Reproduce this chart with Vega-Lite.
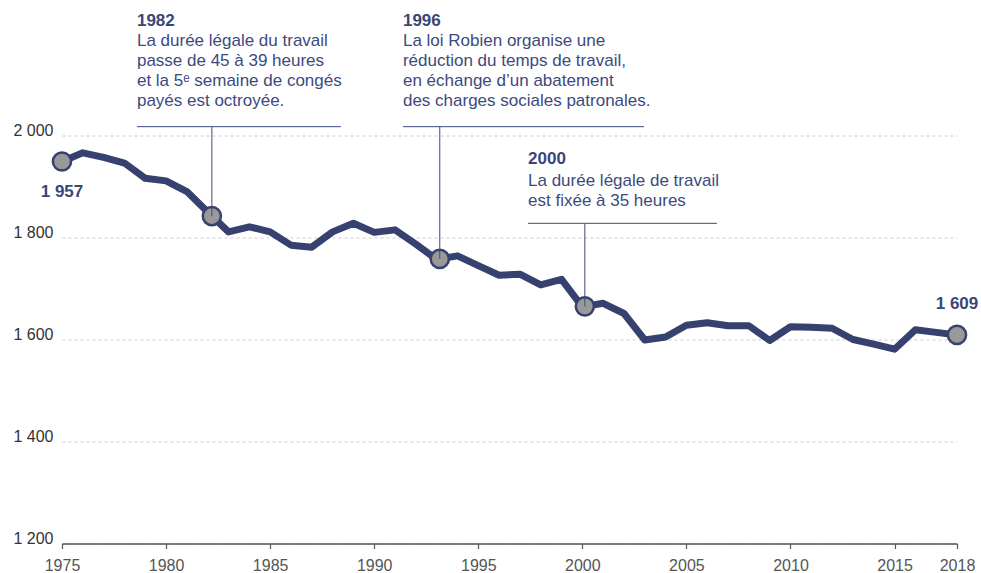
{
  "$schema": "https://vega.github.io/schema/vega-lite/v6.json",
  "width": 895,
  "height": 408,
  "autosize": {"type": "none"},
  "padding": {"left": 62, "top": 135.5, "right": 24, "bottom": 29.5},
  "background": "#ffffff",
  "config": {"view": {"stroke": null}, "font": "Liberation Sans"},
  "datasets": {
    "series": [
      {"year": 1975, "hours": 1949}, {"year": 1976, "hours": 1966}, {"year": 1977, "hours": 1957},
      {"year": 1978, "hours": 1946}, {"year": 1979, "hours": 1916}, {"year": 1980, "hours": 1911},
      {"year": 1981, "hours": 1890}, {"year": 1982, "hours": 1850}, {"year": 1983, "hours": 1811},
      {"year": 1984, "hours": 1821}, {"year": 1985, "hours": 1811}, {"year": 1986, "hours": 1785},
      {"year": 1987, "hours": 1781}, {"year": 1988, "hours": 1811}, {"year": 1989, "hours": 1828},
      {"year": 1990, "hours": 1810}, {"year": 1991, "hours": 1815}, {"year": 1992, "hours": 1787},
      {"year": 1993, "hours": 1757}, {"year": 1994, "hours": 1764}, {"year": 1995, "hours": 1745},
      {"year": 1996, "hours": 1726}, {"year": 1997, "hours": 1728}, {"year": 1998, "hours": 1707},
      {"year": 1999, "hours": 1718}, {"year": 2000, "hours": 1664}, {"year": 2001, "hours": 1671},
      {"year": 2002, "hours": 1651}, {"year": 2003, "hours": 1599}, {"year": 2004, "hours": 1605},
      {"year": 2005, "hours": 1628}, {"year": 2006, "hours": 1633}, {"year": 2007, "hours": 1627},
      {"year": 2008, "hours": 1627}, {"year": 2009, "hours": 1598}, {"year": 2010, "hours": 1625},
      {"year": 2011, "hours": 1624}, {"year": 2012, "hours": 1622}, {"year": 2013, "hours": 1600},
      {"year": 2014, "hours": 1591}, {"year": 2015, "hours": 1581}, {"year": 2016, "hours": 1619},
      {"year": 2017, "hours": 1614}, {"year": 2018, "hours": 1609}
    ],
    "markers": [
      {"year": 1975, "hours": 1949}, {"year": 1982.2, "hours": 1842}, {"year": 1993.15, "hours": 1758},
      {"year": 2000.12, "hours": 1665}, {"year": 2018, "hours": 1609}
    ],
    "endLabels": [
      {"year": 1975, "hours": 1880, "label": "1 957"},
      {"year": 2018, "hours": 1659, "label": "1 609"}
    ],
    "stems": [
      {"year": 1982.2, "from": 1842, "to": 2017.3},
      {"year": 1993.15, "from": 1758, "to": 2017.3},
      {"year": 2000.12, "from": 1665, "to": 1827.8}
    ],
    "bars": [
      {"start": 1978.6, "end": 1988.4, "hours": 2017.3},
      {"start": 1991.38, "end": 2002.96, "hours": 2017.3},
      {"start": 1997.39, "end": 2006.47, "hours": 1827.8}
    ],
    "titles": [
      {"year": 1978.6, "hours": 2215.3, "label": "1982"},
      {"year": 1991.38, "hours": 2215.3, "label": "1996"},
      {"year": 1997.39, "hours": 1944.1, "label": "2000"}
    ],
    "bodies": [
      {"year": 1978.6, "hours": 2175.5, "label": "La durée légale du travail\npasse de 45 à 39 heures\net la 5ᵉ semaine de congés\npayés est octroyée."},
      {"year": 1991.38, "hours": 2175.5, "label": "La loi Robien organise une\nréduction du temps de travail,\nen échange d’un abatement\ndes charges sociales patronales."},
      {"year": 1997.39, "hours": 1901.6, "label": "La durée légale de travail\nest fixée à 35 heures"}
    ]
  },
  "layer": [
    {
      "data": {"name": "series"},
      "mark": {"type": "line", "color": "#37416f", "strokeWidth": 7, "strokeJoin": "round", "strokeCap": "round"},
      "encoding": {
        "x": {
          "field": "year", "type": "quantitative",
          "scale": {"domain": [1975, 2018], "nice": false, "zero": false},
          "axis": {
            "title": null, "values": [1975, 1980, 1985, 1990, 1995, 2000, 2005, 2010, 2015, 2018],
            "format": "d", "grid": false, "domainColor": "#555555", "domainWidth": 1.5,
            "tickColor": "#555555", "tickSize": 5, "tickWidth": 1.2, "labelColor": "#555555",
            "labelFontSize": 16, "labelPadding": 9, "labelBaseline": "top", "labelFlush": false
          }
        },
        "y": {
          "field": "hours", "type": "quantitative",
          "scale": {"domain": [1200, 2000], "nice": false, "zero": false},
          "axis": {
            "title": null, "values": [1200, 1400, 1600, 1800, 2000],
            "labelExpr": "replace(format(datum.value, ',d'), ',', ' ')",
            "domain": false, "ticks": false, "grid": true, "gridColor": "#cccccc",
            "gridDash": [3, 3], "gridWidth": 1, "labelColor": "#333333", "labelFontSize": 16,
            "labelPadding": 9, "labelBaseline": "alphabetic", "labelFlush": false
          }
        }
      }
    },
    {
      "data": {"name": "markers"},
      "mark": {"type": "point", "filled": true, "fill": "#999999", "stroke": "#37416f", "strokeWidth": 2.5, "size": 330, "opacity": 1, "shape": "circle"},
      "encoding": {
        "x": {"field": "year", "type": "quantitative"},
        "y": {"field": "hours", "type": "quantitative"}
      }
    },
    {
      "data": {"name": "stems"},
      "mark": {"type": "rule", "color": "#3d4a7e", "strokeWidth": 1},
      "encoding": {
        "x": {"field": "year", "type": "quantitative"},
        "y": {"field": "from", "type": "quantitative"},
        "y2": {"field": "to"}
      }
    },
    {
      "data": {"name": "bars"},
      "mark": {"type": "rule", "color": "#3d4a7e", "strokeWidth": 1},
      "encoding": {
        "x": {"field": "start", "type": "quantitative"},
        "x2": {"field": "end"},
        "y": {"field": "hours", "type": "quantitative"}
      }
    },
    {
      "data": {"name": "titles"},
      "mark": {"type": "text", "align": "left", "baseline": "alphabetic", "fontSize": 17, "fontWeight": "bold", "color": "#3b4678"},
      "encoding": {
        "x": {"field": "year", "type": "quantitative"},
        "y": {"field": "hours", "type": "quantitative"},
        "text": {"field": "label"}
      }
    },
    {
      "data": {"name": "bodies"},
      "mark": {"type": "text", "align": "left", "baseline": "alphabetic", "fontSize": 17, "lineHeight": 20, "lineBreak": "\n", "color": "#3d4a7e"},
      "encoding": {
        "x": {"field": "year", "type": "quantitative"},
        "y": {"field": "hours", "type": "quantitative"},
        "text": {"field": "label"}
      }
    },
    {
      "data": {"name": "endLabels"},
      "mark": {"type": "text", "align": "center", "baseline": "alphabetic", "fontSize": 17, "fontWeight": "bold", "color": "#3b4678"},
      "encoding": {
        "x": {"field": "year", "type": "quantitative"},
        "y": {"field": "hours", "type": "quantitative"},
        "text": {"field": "label"}
      }
    }
  ]
}
